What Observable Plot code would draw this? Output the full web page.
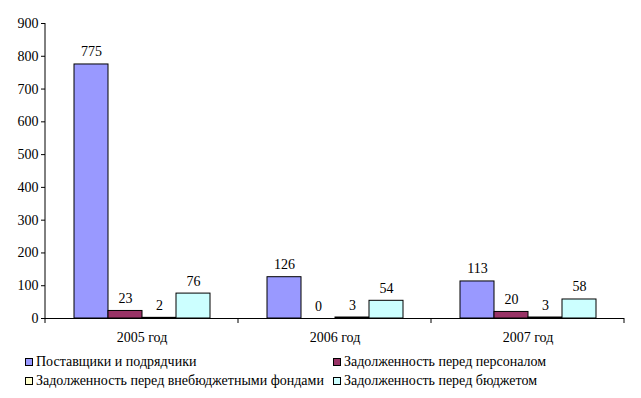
<!DOCTYPE html>
<html><head><meta charset="utf-8">
<script src="https://cdn.jsdelivr.net/npm/d3@7"></script>
<script src="https://cdn.jsdelivr.net/npm/@observablehq/plot@0.6"></script>
<style>
body{margin:0;background:#fff;font-family:'Liberation Serif',serif;color:#000;}
#chart svg{display:block;}
#legend{display:grid;grid-template-columns:308px auto;margin-left:25px;font-size:14px;line-height:19px;margin-top:2px;}
#legend .it{display:flex;align-items:center;white-space:nowrap;}
#legend .sw{width:6px;height:6px;border:1px solid #000;margin-right:3px;box-sizing:content-box;}
</style></head><body><div id="chart"></div><div id="legend" style="font-family:'Liberation Serif',serif"></div><script>
const years = ["2005 год","2006 год","2007 год"];
const series = ["Поставщики и подрядчики","Задолженность перед персоналом","Задолженность перед внебюджетными фондами","Задолженность перед бюджетом"];
const suppliers = [775,126,113];
const personnel = [23,0,20];
const funds = [2,3,3];
const budget = [76,54,58];
const colors = ["#9999FF","#993366","#FFFFCC","#CCFFFF"];
const yTicks = [0,100,200,300,400,500,600,700,800,900];

const seriesValues = [suppliers, personnel, funds, budget];
const data = [];
years.forEach((yr, i) => series.forEach((s, j) => data.push({year: yr, series: s, value: seriesValues[j][i]})));

const W = 641, H = 350;
const chart = Plot.plot({
  width: W, height: H,
  marginLeft: 44, marginRight: 16, marginTop: 23, marginBottom: 32,
  style: {fontFamily: "'Liberation Serif', serif", fontSize: "14px", color: "#000", background: "#fff"},
  fx: {domain: years, padding: 0, label: null, tickSize: 0, tickPadding: 14, axis: "bottom"},
  x: {domain: series, paddingInner: 0, paddingOuter: 0.76, axis: null},
  y: {domain: [0, 900], ticks: yTicks, tickSize: 4, tickPadding: 3, label: null, tickFormat: d => String(d)},
  color: {domain: series, range: colors},
  marks: [
    Plot.barY(data, {fx: "year", x: "series", y: "value", fill: "series", stroke: "#000", strokeWidth: 1}),
    Plot.text(data, {fx: "year", x: "series", y: "value", text: d => String(d.value), dy: -8, lineAnchor: "bottom", fill: "#000", fontSize: 14, fontFamily: "Liberation Serif"}),
    Plot.ruleY([0], {stroke: "#000"})
  ]
});
document.getElementById("chart").appendChild(chart);

// axis line and group boundary ticks, positioned via Plot's own scales
const fx = chart.scale("fx"), y = chart.scale("y");
const svg = d3.select(chart);
svg.selectAll("text").attr("font-family", "Liberation Serif").style("font-family", "'Liberation Serif', serif");
const x0 = fx.apply(years[0]);
svg.append("line").attr("x1", x0).attr("x2", x0).attr("y1", y.apply(900)).attr("y2", y.apply(0)).attr("stroke", "#000");
const bounds = years.map(yr => fx.apply(yr)).concat([fx.apply(years[years.length-1]) + fx.bandwidth]);
svg.append("g").selectAll("line").data(bounds).join("line")
  .attr("x1", d => d).attr("x2", d => d).attr("y1", y.apply(0)).attr("y2", y.apply(0) + 5).attr("stroke", "#000");

const leg = d3.select("#legend");
[0, 1, 2, 3].forEach(i => {
  const it = leg.append("div").attr("class", "it");
  it.append("div").attr("class", "sw").style("background", colors[i]);
  it.append("span").style("font-family", "'Liberation Serif', serif").text(series[i]);
});
</script></body></html>
